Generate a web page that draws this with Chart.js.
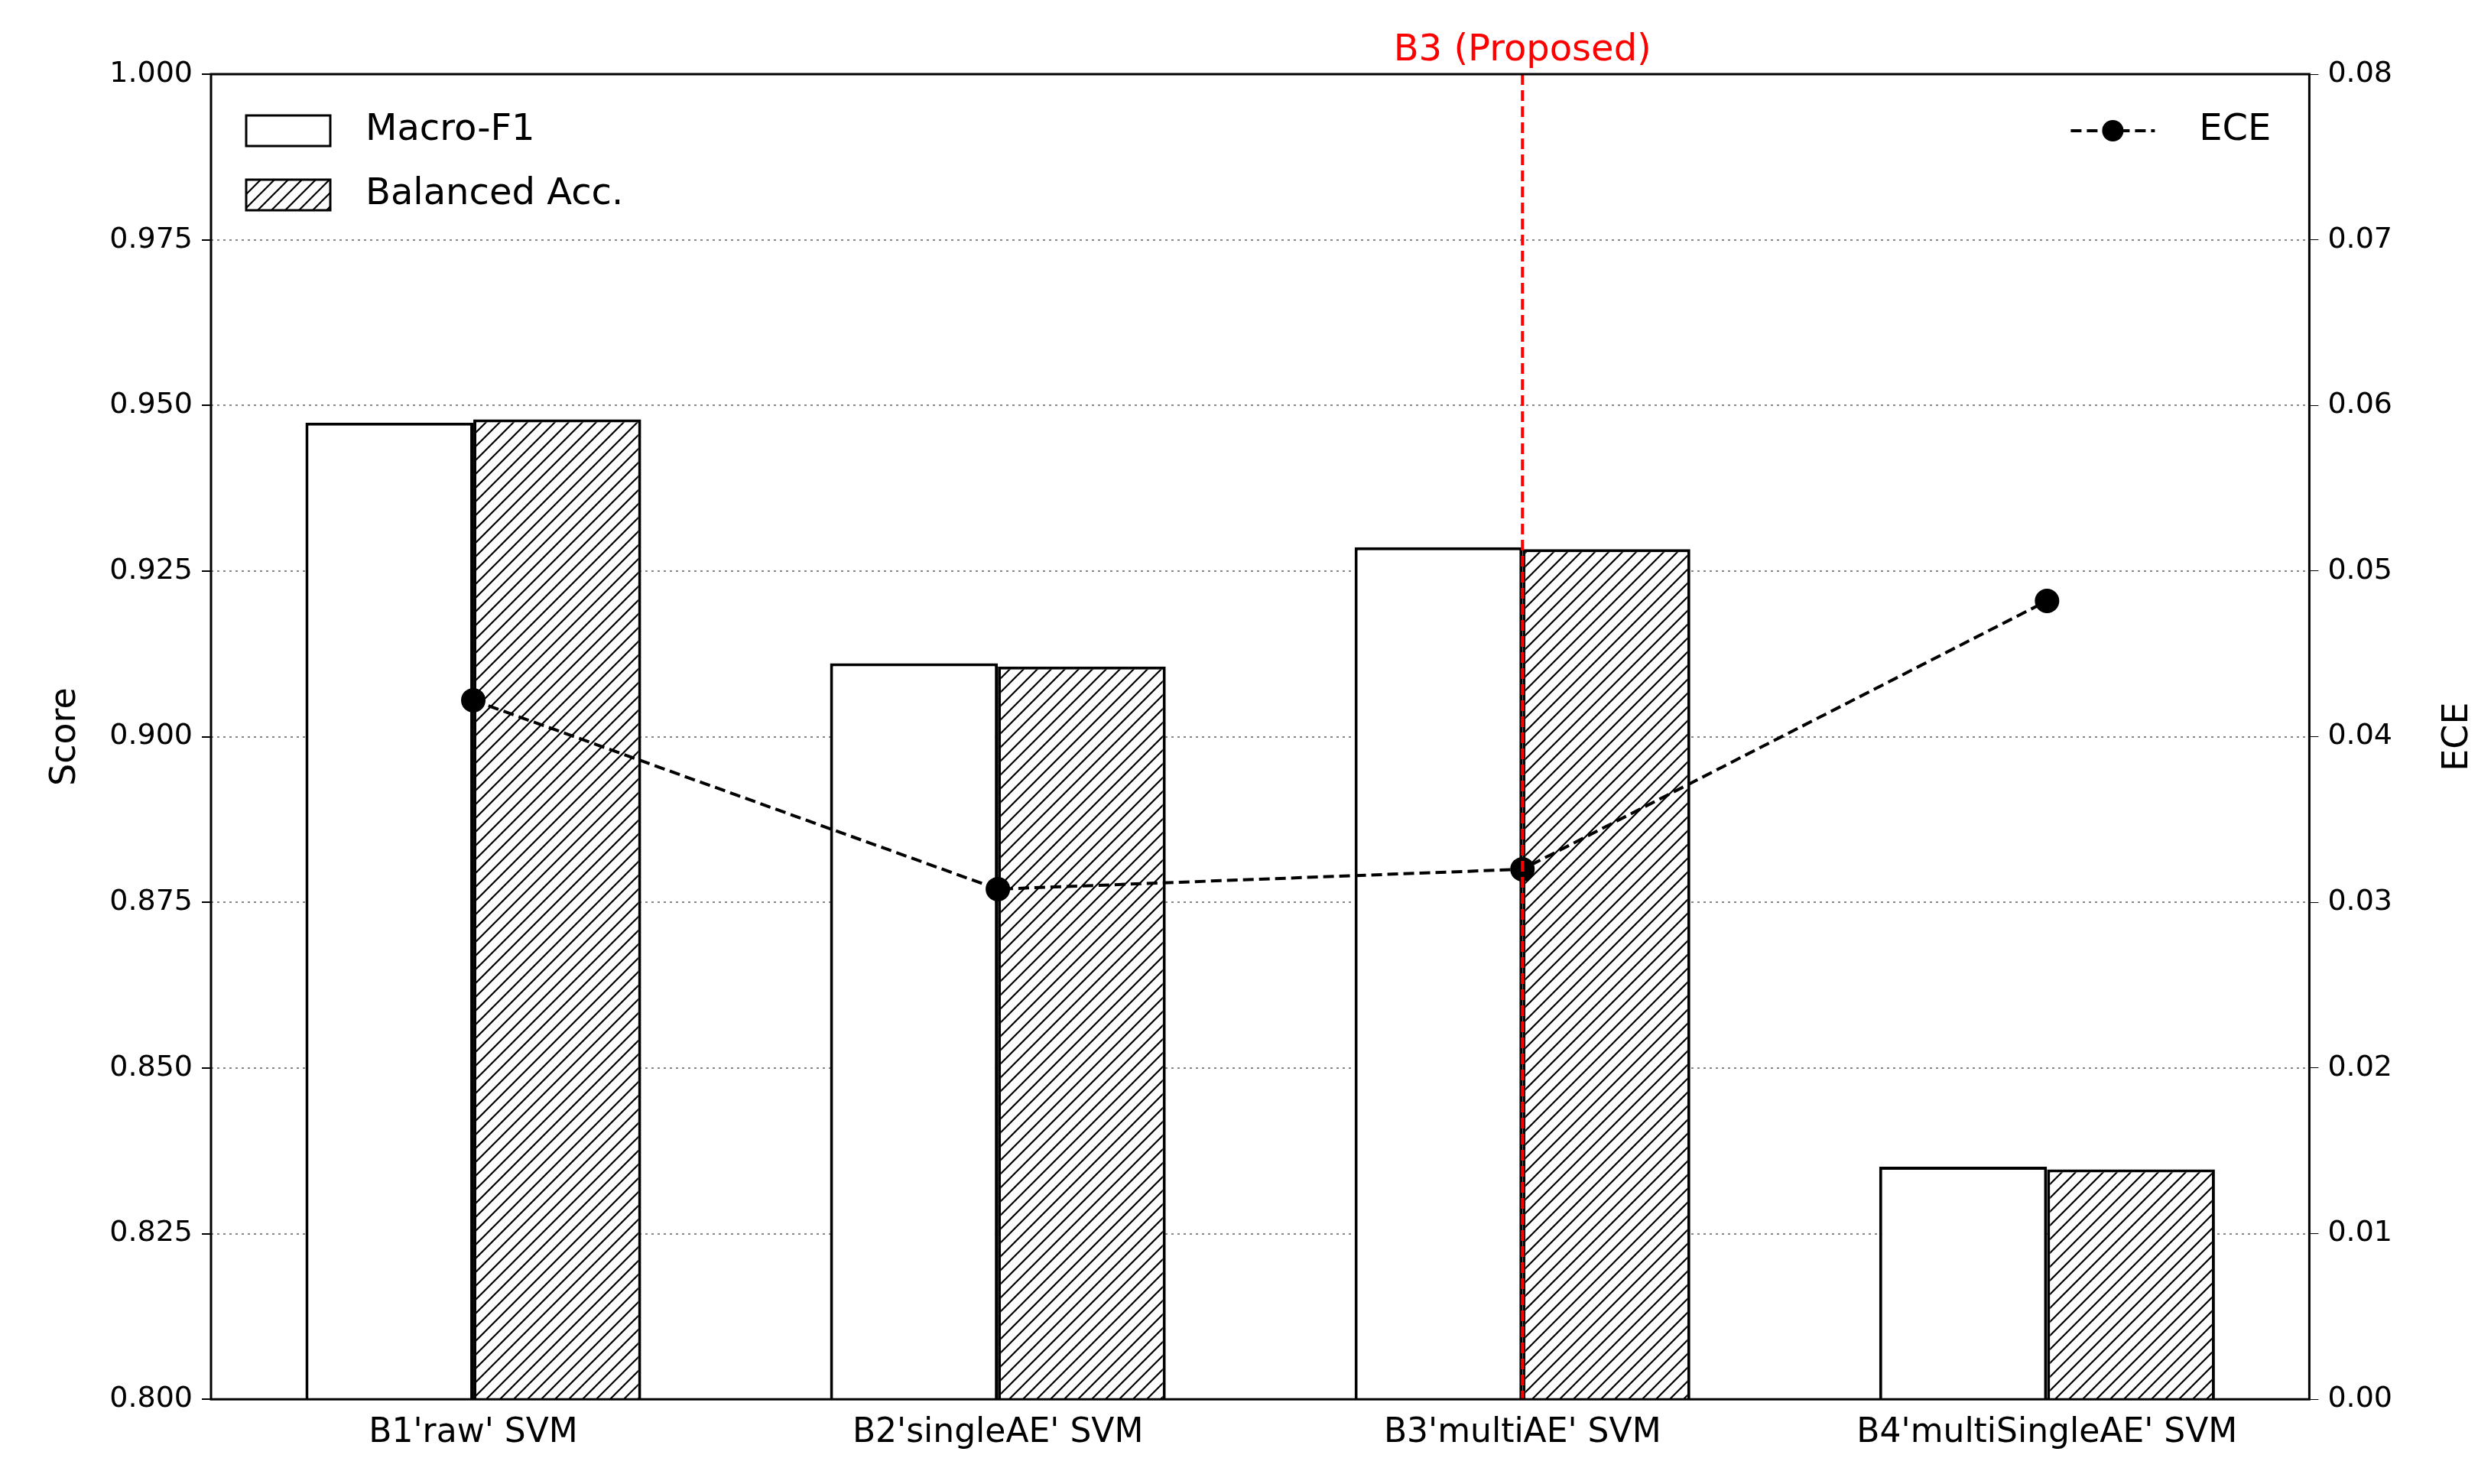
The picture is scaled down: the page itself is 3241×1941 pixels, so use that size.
<!DOCTYPE html>
<html><head><meta charset="utf-8">
<script src="https://cdn.jsdelivr.net/npm/chart.js@4/dist/chart.umd.min.js"></script>
<style>html,body{margin:0;background:#fff}#w{width:3241px;height:1941px}</style>
</head><body><div id="w"><canvas id="c"></canvas></div>
<script>
const categories = ["B1'raw' SVM","B2'singleAE' SVM","B3'multiAE' SVM","B4'multiSingleAE' SVM"];
const macroF1 = [0.9474, 0.9111, 0.9286, 0.8351];
const balancedAcc = [0.9479, 0.9106, 0.9283, 0.8347];
const ece = [0.0422, 0.0308, 0.0320, 0.0482];
const scoreTicks = [0.800,0.825,0.850,0.875,0.900,0.925,0.950,0.975,1.000];
const eceTicks = [0,0.01,0.02,0.03,0.04,0.05,0.06,0.07,0.08];
const proposedIndex = 2;
const proposedLabel = "B3 (Proposed)";

function hatch(){
  const s=18,p=document.createElement('canvas');p.width=s;p.height=s;
  const g=p.getContext('2d');g.fillStyle='#fff';g.fillRect(0,0,s,s);
  g.strokeStyle='#000';g.lineWidth=2.2;g.beginPath();
  g.moveTo(-2,s+2);g.lineTo(s+2,-2);g.moveTo(-2,2);g.lineTo(2,-2);g.moveTo(s-2,s+2);g.lineTo(s+2,s-2);g.stroke();
  return g.createPattern(p,'repeat');
}
const hp = hatch();
const F = "DejaVu Sans";

const deco = {
  id:'deco',
  afterDatasetsDraw(ch){
    const {ctx,chartArea:a,scales}=ch;
    const x=scales.x.getPixelForValue(proposedIndex);
    ctx.save();
    ctx.strokeStyle='#ff0000';ctx.lineWidth=4;ctx.setLineDash([14,7]);
    ctx.beginPath();ctx.moveTo(x,a.top);ctx.lineTo(x,a.bottom);ctx.stroke();
    ctx.setLineDash([]);
    ctx.fillStyle='#ff0000';ctx.font=`48px "${F}"`;ctx.textAlign='center';ctx.textBaseline='bottom';
    ctx.fillText(proposedLabel,x,a.top-6);
    ctx.strokeStyle='#000';ctx.lineWidth=3;ctx.strokeRect(a.left,a.top,a.right-a.left,a.bottom-a.top);
    // right axis title (reads bottom-to-top)
    ctx.save();ctx.fillStyle='#000';ctx.font=`46px "${F}"`;ctx.textAlign='center';ctx.textBaseline='middle';
    ctx.translate(3241-26,(a.top+a.bottom)/2);ctx.rotate(-Math.PI/2);ctx.fillText('ECE',0,0);ctx.restore();
    // legend left
    ctx.font=`48px "${F}"`;ctx.textAlign='left';ctx.textBaseline='middle';ctx.fillStyle='#000';
    const lx=a.left+46, bw=110, bh=40;
    let y1=a.top+74;
    ctx.lineWidth=3;ctx.fillStyle='#fff';ctx.fillRect(lx,y1-bh/2,bw,bh);ctx.strokeRect(lx,y1-bh/2,bw,bh);
    ctx.fillStyle='#000';ctx.fillText('Macro-F1',lx+bw+46,y1);
    let y2=a.top+158;
    ctx.fillStyle=hp;ctx.fillRect(lx,y2-bh/2,bw,bh);ctx.strokeRect(lx,y2-bh/2,bw,bh);
    ctx.fillStyle='#000';ctx.fillText('Balanced Acc.',lx+bw+46,y2);
    const rx=a.right-50;ctx.textAlign='right';ctx.fillText('ECE',rx,y1);
    const sx=rx-262;ctx.setLineDash([14,7]);ctx.lineWidth=4;
    ctx.beginPath();ctx.moveTo(sx,y1);ctx.lineTo(sx+110,y1);ctx.stroke();ctx.setLineDash([]);
    ctx.beginPath();ctx.arc(sx+55,y1,14,0,Math.PI*2);ctx.fill();
    ctx.restore();
  }
};

new Chart(document.getElementById('c'),{
  data:{labels:categories,datasets:[
    {type:'line',label:'ECE',data:ece,yAxisID:'y1',borderColor:'#000',borderWidth:4,borderDash:[14,7],pointRadius:14,pointBackgroundColor:'#000',pointBorderColor:'#000',tension:0,order:0},
    {type:'bar',label:'Macro-F1',data:macroF1,yAxisID:'y',backgroundColor:'#fff',borderColor:'#000',borderWidth:4,borderSkipped:'bottom',categoryPercentage:0.64,barPercentage:1,order:1},
    {type:'bar',label:'Balanced Acc.',data:balancedAcc,yAxisID:'y',backgroundColor:hp,borderColor:'#000',borderWidth:4,borderSkipped:'bottom',categoryPercentage:0.64,barPercentage:1,order:1}
  ]},
  options:{responsive:true,maintainAspectRatio:false,animation:false,devicePixelRatio:1,
    layout:{padding:{top:97,left:40,right:100,bottom:30}},
    plugins:{legend:{display:false},tooltip:{enabled:false}},
    scales:{
      x:{grid:{display:false,drawTicks:true},border:{display:false},ticks:{color:'#000',font:{family:F,size:44},padding:10}},
      y:{position:'left',min:0.8,max:1.0,afterBuildTicks:s=>{s.ticks=scoreTicks.map(v=>({value:v}));},
        ticks:{color:'#000',font:{family:F,size:38},padding:12,callback:v=>v.toFixed(3)},
        grid:{color:'#888',lineWidth:2,tickLength:12,tickColor:'#000',drawOnChartArea:true},border:{display:false,dash:[3,5]},
        title:{display:true,text:'Score',color:'#000',font:{family:F,size:46},padding:18}},
      y1:{position:'right',min:0,max:0.08,afterBuildTicks:s=>{s.ticks=eceTicks.map(v=>({value:v}));},
        ticks:{color:'#000',font:{family:F,size:38},padding:12,callback:v=>v.toFixed(2)},
        grid:{drawOnChartArea:false,tickLength:12,tickColor:'#000'},border:{display:false},
        title:{display:false}}
    }},
  plugins:[deco]
});
</script></body></html>
